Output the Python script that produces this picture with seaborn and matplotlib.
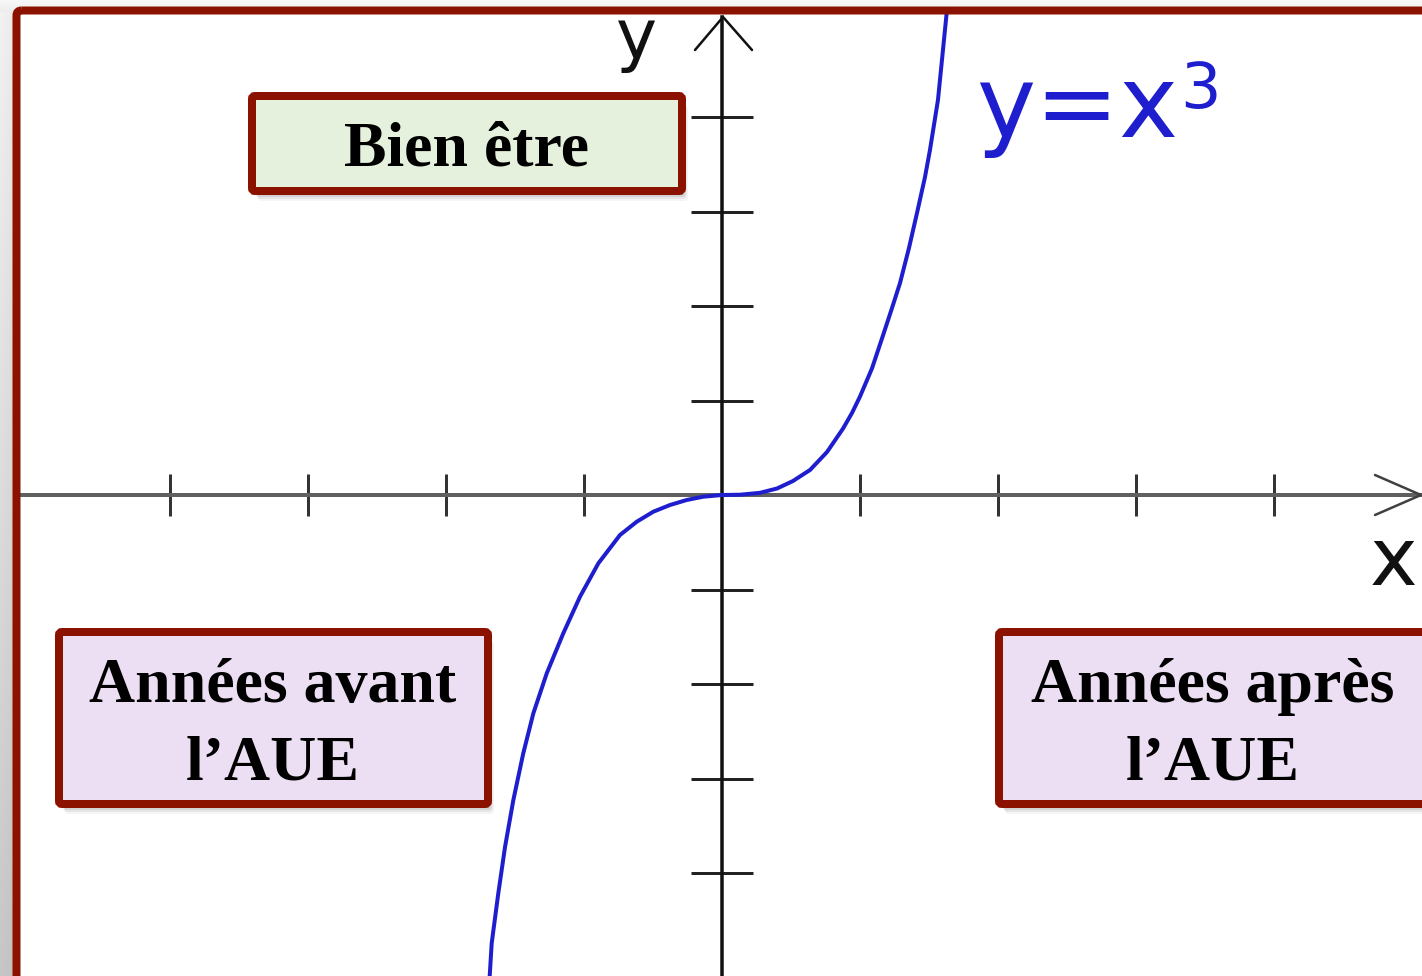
import numpy as np
import pandas as pd
import matplotlib
matplotlib.use("Agg")
import matplotlib.pyplot as plt
import seaborn as sns
from matplotlib.patches import FancyBboxPatch

# ---- data (axis tick units) ----
curve_x = [-1.685, -1.669, -1.621, -1.572, -1.512, -1.440, -1.367, -1.270, -1.150,
           -1.029, -0.896, -0.739, -0.618, -0.498, -0.377, -0.256, -0.136, 0.0,
           0.130, 0.275, 0.399, 0.514, 0.638, 0.761, 0.877, 0.942, 1.000, 1.087,
           1.167, 1.232, 1.290, 1.355, 1.413, 1.471, 1.507, 1.565, 1.628]
curve_y = [-5.13, -4.744, -4.215, -3.722, -3.228, -2.733, -2.310, -1.887, -1.463,
           -1.076, -0.723, -0.423, -0.283, -0.177, -0.106, -0.053, -0.018, 0.0,
           0.003, 0.023, 0.069, 0.148, 0.265, 0.455, 0.703, 0.868, 1.042, 1.340,
           1.690, 1.979, 2.243, 2.614, 2.984, 3.365, 3.651, 4.180, 5.101]
x_ticks = [-4, -3, -2, -1, 1, 2, 3, 4]
y_ticks = [-4, -3, -2, -1, 1, 2, 3, 4]
curve_label = "y=x"
curve_power = "3"
axis_x_label = "x"
axis_y_label = "y"
box_top = "Bien être"
box_left = ["Années avant", "l’AUE"]
box_right = ["Années après", "l’AUE"]

W, H = 1422, 976
PT = 72 / 100  # points per pixel at dpi 100

sns.set_theme(style="white")
plt.rcParams["font.family"] = ["DejaVu Sans"]

fig = plt.figure(figsize=(W / 100, H / 100), dpi=100)

# background layer (pixel coordinates)
bg = fig.add_axes([0, 0, 1, 1], zorder=0)
bg.set_xlim(0, W)
bg.set_ylim(H, 0)
bg.axis("off")
grad_v = np.linspace(0.95, 0.78, 200)[:, None] * np.ones((1, 10))
grad_h = np.linspace(1.0, 0.97, 10)[None, :]
strip = np.clip(grad_v * grad_h, 0, 1)
bg.imshow(np.dstack([strip] * 3), extent=[0, 16, H, 0], aspect="auto", zorder=1)
top = np.linspace(0.97, 0.93, 12)[:, None] * np.ones((1, 10))
bg.imshow(np.dstack([top] * 3), extent=[0, W, 12, 0], aspect="auto", zorder=1)
bg.add_patch(plt.Rectangle((16, 11), W, H, facecolor="white", edgecolor="none", zorder=2))

# main data axes
ax = fig.add_axes([0, 0, 1, 1], zorder=1)
ax.patch.set_alpha(0)
df = pd.DataFrame({"x": curve_x, "y": curve_y})
sns.lineplot(data=df, x="x", y="y", sort=False, estimator=None,
             color="#1e1ecf", lw=4 * PT, ax=ax, zorder=3)
ax.lines[-1].set_solid_joinstyle("round")

x_lo, x_hi = -722 / 138, (W - 722) / 138
y_lo, y_hi = (495 - H) / 94.5, 495 / 94.5
ax.set_xlim(x_lo, x_hi)
ax.set_ylim(y_lo, y_hi)
ax.set_xlabel("")
ax.set_ylabel("")
for s in ["top", "right"]:
    ax.spines[s].set_visible(False)
ax.spines["left"].set_position("zero")
ax.spines["bottom"].set_position("zero")
ax.spines["bottom"].set_color("#606060")
ax.spines["bottom"].set_linewidth(4 * PT)
ax.spines["left"].set_color("#111111")
ax.spines["left"].set_linewidth(3.5 * PT)
ax.spines["left"].set_bounds(y_lo, (495 - 17) / 94.5)
ax.spines["bottom"].set_bounds((18 - 722) / 138, (1421 - 722) / 138)
ax.set_xticks(x_ticks)
ax.set_yticks(y_ticks)
ax.tick_params(axis="x", direction="inout", length=42 * PT, width=3 * PT,
               color="#333333", bottom=True, labelbottom=False)
ax.tick_params(axis="y", direction="inout", length=62 * PT, width=3 * PT,
               color="#222222", left=True, labelleft=False)

# overlay layer (pixel coordinates)
ov = fig.add_axes([0, 0, 1, 1], zorder=2)
ov.set_xlim(0, W)
ov.set_ylim(H, 0)
ov.axis("off")
ov.patch.set_alpha(0)

# arrow heads
ov.plot([1375, 1421, 1375], [475, 495, 515], color="#404040", lw=2.5 * PT,
        solid_joinstyle="miter")
ov.plot([695, 723, 752], [50, 17, 50], color="#111111", lw=2.5 * PT,
        solid_joinstyle="miter")

# axis letters and formula
ov.text(636, 59, axis_y_label, fontsize=50, ha="center", va="baseline",
        color="#111111", family="DejaVu Sans")
ov.text(1394, 585, axis_x_label, fontsize=58, ha="center", va="baseline",
        color="#111111", family="DejaVu Sans")
ov.text(976, 137, curve_label, fontsize=72, ha="left", va="baseline",
        color="#1e1ecf", family="DejaVu Sans")
ov.text(1180, 108, curve_power, fontsize=46, ha="left", va="baseline",
        color="#1e1ecf", family="DejaVu Sans")

EDGE = "#8c1200"


def box(x0, y0, x1, y1, fc):
    for k, a in [(10, 0.04), (8, 0.06), (6, 0.08), (4, 0.10), (2, 0.10)]:
        ov.add_patch(FancyBboxPatch((x0 + k * 0.6, y0 + k), x1 - x0, y1 - y0,
                                    boxstyle="round,pad=0,rounding_size=4",
                                    facecolor="black", edgecolor="none",
                                    alpha=a, zorder=3))
    ov.add_patch(FancyBboxPatch((x0, y0), x1 - x0, y1 - y0,
                                boxstyle="round,pad=0,rounding_size=3",
                                facecolor=fc, edgecolor=EDGE,
                                lw=8 * PT, zorder=4))


serif = dict(family="Liberation Serif", fontweight="bold", fontsize=46,
             color="black", ha="center", va="baseline", zorder=5)

box(252, 96, 682, 191, "#e6f1dd")
ov.text(467, 165, box_top, **serif)

box(59, 632, 488, 804, "#ecdff3")
ov.text(273, 702, box_left[0], **serif)
ov.text(273, 780, box_left[1], **serif)

box(999, 632, 1440, 804, "#ecdff3")
ov.text(1213, 702, box_right[0], **serif)
ov.text(1213, 780, box_right[1], **serif)

# outer frame
ov.add_patch(FancyBboxPatch((16.5, 10.5), 1440, 1000,
                            boxstyle="round,pad=0,rounding_size=5",
                            facecolor="none", edgecolor=EDGE,
                            lw=8 * PT, zorder=6))

fig.savefig("out.png", dpi=100)
